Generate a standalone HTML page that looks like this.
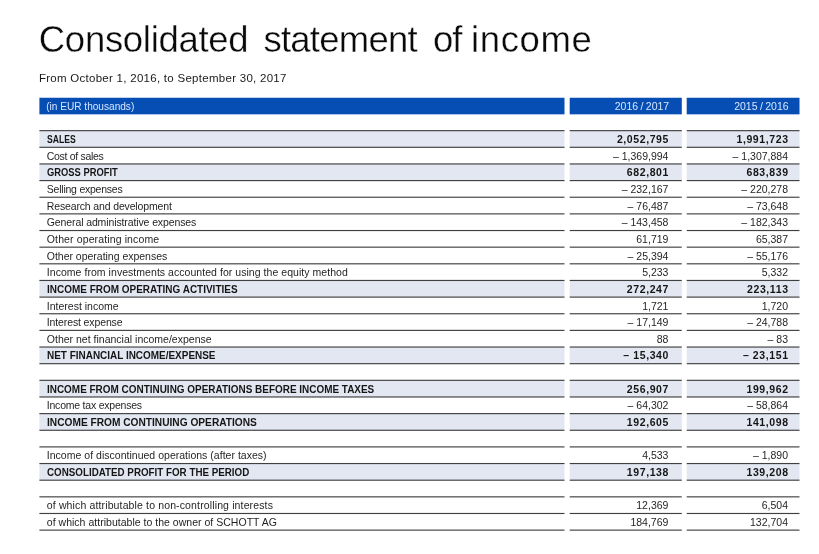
<!DOCTYPE html>
<html><head><meta charset="utf-8"><title>Consolidated statement of income</title>
<style>
html,body{margin:0;padding:0;background:#fff;}
body{width:819px;height:554px;position:relative;overflow:hidden;font-family:"Liberation Sans",sans-serif;color:#1f1f1f;}
svg{position:absolute;left:0;top:0;}
.txt{position:absolute;left:0;top:0;width:819px;height:554px;will-change:transform;}
h1{position:absolute;left:0;top:18.6px;margin:0;font-weight:400;font-size:36.5px;line-height:42px;letter-spacing:0.05px;white-space:nowrap;color:#0a0a0a;-webkit-text-stroke:0.35px #fff;}
h1 span{position:absolute;top:0;}
.sub{position:absolute;left:38.9px;top:70.4px;font-size:11.5px;line-height:16px;letter-spacing:0.277px;white-space:nowrap;color:#1a1a1a;}
.h{position:absolute;top:100px;height:12px;line-height:12px;font-size:10.5px;color:#d6e6ff;white-space:nowrap;}
.h i{font-style:normal;padding:0 2.4px;}
.h.t{font-size:10.1px;top:101px;}
.r{position:absolute;left:0;width:819px;height:12px;line-height:12px;font-size:10.5px;white-space:nowrap;}
.r span{position:absolute;top:0;}
.l{left:46.8px;}
.b{color:#151515;}
.b .l{font-weight:700;transform-origin:0 0;}
.b .v{font-weight:700;letter-spacing:0.6px;margin-right:-0.6px;}
.v{text-align:right;}
.v1{right:150.6px;}
.v2{right:31.0px;}
</style></head><body>
<svg width="819" height="554" viewBox="0 0 819 554">
<rect x="39.4" y="97.75" width="525.10" height="16.60" fill="#064eb3"/>
<rect x="569.7" y="97.75" width="112.10" height="16.60" fill="#064eb3"/>
<rect x="686.7" y="97.75" width="112.80" height="16.60" fill="#064eb3"/>
<rect x="39.4" y="130.65" width="525.10" height="16.64" fill="#e3e7f2"/>
<rect x="569.7" y="130.65" width="112.10" height="16.64" fill="#e3e7f2"/>
<rect x="686.7" y="130.65" width="112.80" height="16.64" fill="#e3e7f2"/>
<rect x="39.4" y="163.94" width="525.10" height="16.64" fill="#e3e7f2"/>
<rect x="569.7" y="163.94" width="112.10" height="16.64" fill="#e3e7f2"/>
<rect x="686.7" y="163.94" width="112.80" height="16.64" fill="#e3e7f2"/>
<rect x="39.4" y="280.46" width="525.10" height="16.64" fill="#e3e7f2"/>
<rect x="569.7" y="280.46" width="112.10" height="16.64" fill="#e3e7f2"/>
<rect x="686.7" y="280.46" width="112.80" height="16.64" fill="#e3e7f2"/>
<rect x="39.4" y="347.03" width="525.10" height="16.64" fill="#e3e7f2"/>
<rect x="569.7" y="347.03" width="112.10" height="16.64" fill="#e3e7f2"/>
<rect x="686.7" y="347.03" width="112.80" height="16.64" fill="#e3e7f2"/>
<rect x="39.4" y="380.32" width="525.10" height="16.64" fill="#e3e7f2"/>
<rect x="569.7" y="380.32" width="112.10" height="16.64" fill="#e3e7f2"/>
<rect x="686.7" y="380.32" width="112.80" height="16.64" fill="#e3e7f2"/>
<rect x="39.4" y="413.62" width="525.10" height="16.64" fill="#e3e7f2"/>
<rect x="569.7" y="413.62" width="112.10" height="16.64" fill="#e3e7f2"/>
<rect x="686.7" y="413.62" width="112.80" height="16.64" fill="#e3e7f2"/>
<rect x="39.4" y="463.55" width="525.10" height="16.64" fill="#e3e7f2"/>
<rect x="569.7" y="463.55" width="112.10" height="16.64" fill="#e3e7f2"/>
<rect x="686.7" y="463.55" width="112.80" height="16.64" fill="#e3e7f2"/>
<rect x="39.4" y="130.08" width="525.10" height="1.15" fill="#404040"/>
<rect x="569.7" y="130.08" width="112.10" height="1.15" fill="#404040"/>
<rect x="686.7" y="130.08" width="112.80" height="1.15" fill="#404040"/>
<rect x="39.4" y="146.72" width="525.10" height="1.15" fill="#404040"/>
<rect x="569.7" y="146.72" width="112.10" height="1.15" fill="#404040"/>
<rect x="686.7" y="146.72" width="112.80" height="1.15" fill="#404040"/>
<rect x="39.4" y="163.37" width="525.10" height="1.15" fill="#404040"/>
<rect x="569.7" y="163.37" width="112.10" height="1.15" fill="#404040"/>
<rect x="686.7" y="163.37" width="112.80" height="1.15" fill="#404040"/>
<rect x="39.4" y="180.01" width="525.10" height="1.15" fill="#404040"/>
<rect x="569.7" y="180.01" width="112.10" height="1.15" fill="#404040"/>
<rect x="686.7" y="180.01" width="112.80" height="1.15" fill="#404040"/>
<rect x="39.4" y="196.66" width="525.10" height="1.15" fill="#404040"/>
<rect x="569.7" y="196.66" width="112.10" height="1.15" fill="#404040"/>
<rect x="686.7" y="196.66" width="112.80" height="1.15" fill="#404040"/>
<rect x="39.4" y="213.30" width="525.10" height="1.15" fill="#404040"/>
<rect x="569.7" y="213.30" width="112.10" height="1.15" fill="#404040"/>
<rect x="686.7" y="213.30" width="112.80" height="1.15" fill="#404040"/>
<rect x="39.4" y="229.95" width="525.10" height="1.15" fill="#404040"/>
<rect x="569.7" y="229.95" width="112.10" height="1.15" fill="#404040"/>
<rect x="686.7" y="229.95" width="112.80" height="1.15" fill="#404040"/>
<rect x="39.4" y="246.59" width="525.10" height="1.15" fill="#404040"/>
<rect x="569.7" y="246.59" width="112.10" height="1.15" fill="#404040"/>
<rect x="686.7" y="246.59" width="112.80" height="1.15" fill="#404040"/>
<rect x="39.4" y="263.24" width="525.10" height="1.15" fill="#404040"/>
<rect x="569.7" y="263.24" width="112.10" height="1.15" fill="#404040"/>
<rect x="686.7" y="263.24" width="112.80" height="1.15" fill="#404040"/>
<rect x="39.4" y="279.88" width="525.10" height="1.15" fill="#404040"/>
<rect x="569.7" y="279.88" width="112.10" height="1.15" fill="#404040"/>
<rect x="686.7" y="279.88" width="112.80" height="1.15" fill="#404040"/>
<rect x="39.4" y="296.53" width="525.10" height="1.15" fill="#404040"/>
<rect x="569.7" y="296.53" width="112.10" height="1.15" fill="#404040"/>
<rect x="686.7" y="296.53" width="112.80" height="1.15" fill="#404040"/>
<rect x="39.4" y="313.17" width="525.10" height="1.15" fill="#404040"/>
<rect x="569.7" y="313.17" width="112.10" height="1.15" fill="#404040"/>
<rect x="686.7" y="313.17" width="112.80" height="1.15" fill="#404040"/>
<rect x="39.4" y="329.81" width="525.10" height="1.15" fill="#404040"/>
<rect x="569.7" y="329.81" width="112.10" height="1.15" fill="#404040"/>
<rect x="686.7" y="329.81" width="112.80" height="1.15" fill="#404040"/>
<rect x="39.4" y="346.46" width="525.10" height="1.15" fill="#404040"/>
<rect x="569.7" y="346.46" width="112.10" height="1.15" fill="#404040"/>
<rect x="686.7" y="346.46" width="112.80" height="1.15" fill="#404040"/>
<rect x="39.4" y="363.11" width="525.10" height="1.15" fill="#404040"/>
<rect x="569.7" y="363.11" width="112.10" height="1.15" fill="#404040"/>
<rect x="686.7" y="363.11" width="112.80" height="1.15" fill="#404040"/>
<rect x="39.4" y="379.75" width="525.10" height="1.15" fill="#404040"/>
<rect x="569.7" y="379.75" width="112.10" height="1.15" fill="#404040"/>
<rect x="686.7" y="379.75" width="112.80" height="1.15" fill="#404040"/>
<rect x="39.4" y="396.40" width="525.10" height="1.15" fill="#404040"/>
<rect x="569.7" y="396.40" width="112.10" height="1.15" fill="#404040"/>
<rect x="686.7" y="396.40" width="112.80" height="1.15" fill="#404040"/>
<rect x="39.4" y="413.04" width="525.10" height="1.15" fill="#404040"/>
<rect x="569.7" y="413.04" width="112.10" height="1.15" fill="#404040"/>
<rect x="686.7" y="413.04" width="112.80" height="1.15" fill="#404040"/>
<rect x="39.4" y="429.69" width="525.10" height="1.15" fill="#404040"/>
<rect x="569.7" y="429.69" width="112.10" height="1.15" fill="#404040"/>
<rect x="686.7" y="429.69" width="112.80" height="1.15" fill="#404040"/>
<rect x="39.4" y="446.33" width="525.10" height="1.15" fill="#404040"/>
<rect x="569.7" y="446.33" width="112.10" height="1.15" fill="#404040"/>
<rect x="686.7" y="446.33" width="112.80" height="1.15" fill="#404040"/>
<rect x="39.4" y="462.97" width="525.10" height="1.15" fill="#404040"/>
<rect x="569.7" y="462.97" width="112.10" height="1.15" fill="#404040"/>
<rect x="686.7" y="462.97" width="112.80" height="1.15" fill="#404040"/>
<rect x="39.4" y="479.62" width="525.10" height="1.15" fill="#404040"/>
<rect x="569.7" y="479.62" width="112.10" height="1.15" fill="#404040"/>
<rect x="686.7" y="479.62" width="112.80" height="1.15" fill="#404040"/>
<rect x="39.4" y="496.27" width="525.10" height="1.15" fill="#404040"/>
<rect x="569.7" y="496.27" width="112.10" height="1.15" fill="#404040"/>
<rect x="686.7" y="496.27" width="112.80" height="1.15" fill="#404040"/>
<rect x="39.4" y="512.91" width="525.10" height="1.15" fill="#404040"/>
<rect x="569.7" y="512.91" width="112.10" height="1.15" fill="#404040"/>
<rect x="686.7" y="512.91" width="112.80" height="1.15" fill="#404040"/>
<rect x="39.4" y="529.55" width="525.10" height="1.15" fill="#404040"/>
<rect x="569.7" y="529.55" width="112.10" height="1.15" fill="#404040"/>
<rect x="686.7" y="529.55" width="112.80" height="1.15" fill="#404040"/>
</svg>
<div class="txt">
<h1><span style="left:38.8px;letter-spacing:-0.29px">Consolidated</span><span style="left:263.4px;letter-spacing:-0.75px">statement</span><span style="left:432.9px;letter-spacing:-0.9px">of</span><span style="left:471.0px;letter-spacing:0.64px">income</span></h1>
<div class="sub">From October 1, 2016, to September 30, 2017</div>
<div class="h t" style="left:46.2px">(in EUR thousands)</div>
<div class="h" style="right:149.8px">2016<i>/</i>2017</div>
<div class="h" style="right:30.4px">2015<i>/</i>2016</div>
<div class="r b" style="top:133px"><span class="l" style="transform:scaleX(0.8211)">SALES</span><span class="v v1">2,052,795</span><span class="v v2">1,991,723</span></div>
<div class="r n" style="top:150px"><span class="l" style="letter-spacing:-0.307px">Cost of sales</span><span class="v v1">– 1,369,994</span><span class="v v2">– 1,307,884</span></div>
<div class="r b" style="top:166px"><span class="l" style="transform:scaleX(0.8910)">GROSS PROFIT</span><span class="v v1">682,801</span><span class="v v2">683,839</span></div>
<div class="r n" style="top:183px"><span class="l" style="letter-spacing:-0.231px">Selling expenses</span><span class="v v1">– 232,167</span><span class="v v2">– 220,278</span></div>
<div class="r n" style="top:200px"><span class="l" style="letter-spacing:-0.146px">Research and development</span><span class="v v1">– 76,487</span><span class="v v2">– 73,648</span></div>
<div class="r n" style="top:216px"><span class="l" style="letter-spacing:-0.114px">General administrative expenses</span><span class="v v1">– 143,458</span><span class="v v2">– 182,343</span></div>
<div class="r n" style="top:233px"><span class="l" style="letter-spacing:0.122px">Other operating income</span><span class="v v1">61,719</span><span class="v v2">65,387</span></div>
<div class="r n" style="top:250px"><span class="l" style="letter-spacing:-0.018px">Other operating expenses</span><span class="v v1">– 25,394</span><span class="v v2">– 55,176</span></div>
<div class="r n" style="top:266px"><span class="l" style="letter-spacing:0.046px">Income from investments accounted for using the equity method</span><span class="v v1">5,233</span><span class="v v2">5,332</span></div>
<div class="r b" style="top:283px"><span class="l" style="transform:scaleX(0.9495)">INCOME FROM OPERATING ACTIVITIES</span><span class="v v1">272,247</span><span class="v v2">223,113</span></div>
<div class="r n" style="top:300px"><span class="l" style="letter-spacing:0.005px">Interest income</span><span class="v v1">1,721</span><span class="v v2">1,720</span></div>
<div class="r n" style="top:316px"><span class="l" style="letter-spacing:-0.123px">Interest expense</span><span class="v v1">– 17,149</span><span class="v v2">– 24,788</span></div>
<div class="r n" style="top:333px"><span class="l" style="letter-spacing:0.006px">Other net financial income/expense</span><span class="v v1">88</span><span class="v v2">– 83</span></div>
<div class="r b" style="top:349px"><span class="l" style="transform:scaleX(0.9480)">NET FINANCIAL INCOME/EXPENSE</span><span class="v v1">– 15,340</span><span class="v v2">– 23,151</span></div>
<div class="r b" style="top:383px"><span class="l" style="transform:scaleX(0.9470)">INCOME FROM CONTINUING OPERATIONS BEFORE INCOME TAXES</span><span class="v v1">256,907</span><span class="v v2">199,962</span></div>
<div class="r n" style="top:399px"><span class="l" style="letter-spacing:-0.222px">Income tax expenses</span><span class="v v1">– 64,302</span><span class="v v2">– 58,864</span></div>
<div class="r b" style="top:416px"><span class="l" style="transform:scaleX(0.9680)">INCOME FROM CONTINUING OPERATIONS</span><span class="v v1">192,605</span><span class="v v2">141,098</span></div>
<div class="r n" style="top:449px"><span class="l" style="letter-spacing:0.020px">Income of discontinued operations (after taxes)</span><span class="v v1">4,533</span><span class="v v2">– 1,890</span></div>
<div class="r b" style="top:466px"><span class="l" style="transform:scaleX(0.9330)">CONSOLIDATED PROFIT FOR THE PERIOD</span><span class="v v1">197,138</span><span class="v v2">139,208</span></div>
<div class="r n" style="top:499px"><span class="l" style="letter-spacing:0.136px">of which attributable to non-controlling interests</span><span class="v v1">12,369</span><span class="v v2">6,504</span></div>
<div class="r n" style="top:516px"><span class="l" style="letter-spacing:0.020px">of which attributable to the owner of SCHOTT AG</span><span class="v v1">184,769</span><span class="v v2">132,704</span></div>
</div>
</body></html>
